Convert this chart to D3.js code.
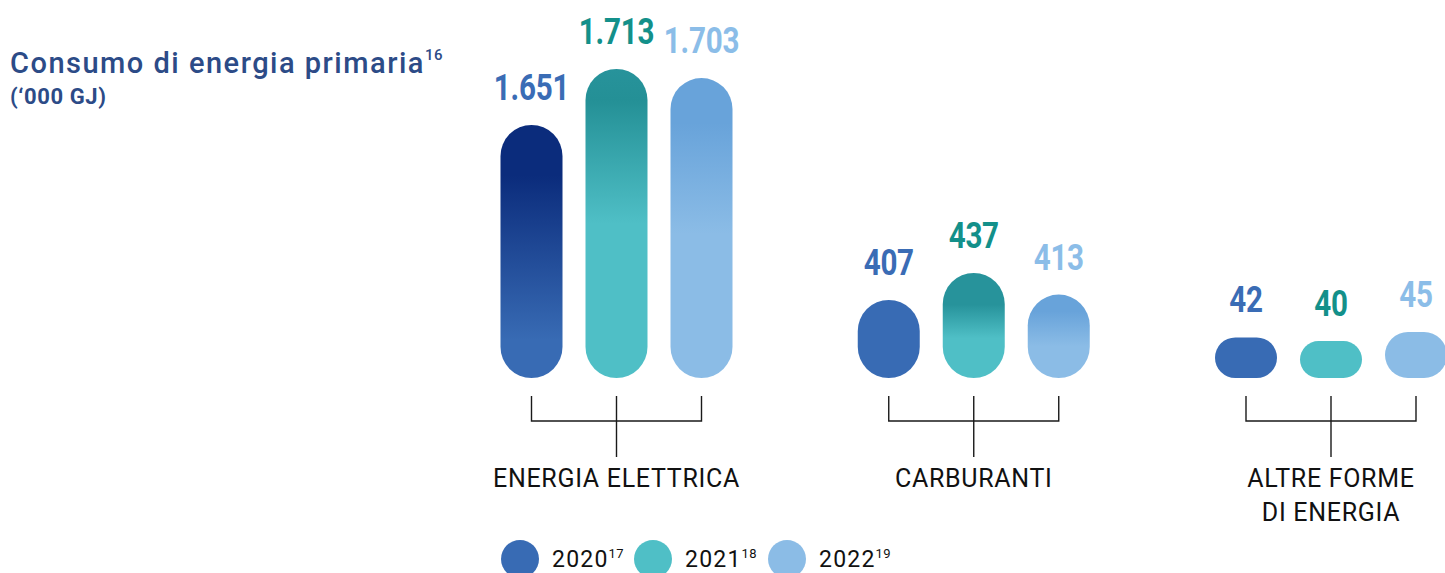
<!DOCTYPE html>
<html>
<head>
<meta charset="utf-8">
<script src="https://cdn.jsdelivr.net/npm/d3@7"></script>
<style>
  html, body { margin: 0; padding: 0; background: #ffffff; }
  svg { display: block; }
</style>
</head>
<body>
<svg id="chart" width="1445" height="573"></svg>
<script>
// ---- data ----
const categories = ["ENERGIA ELETTRICA", "CARBURANTI", "ALTRE FORME DI ENERGIA"];
const categoryLines = [["ENERGIA ELETTRICA"], ["CARBURANTI"], ["ALTRE FORME", "DI ENERGIA"]];
const years = ["2020", "2021", "2022"];
const yearNotes = ["17", "18", "19"];
const values2020 = [1651, 407, 42];
const values2021 = [1713, 437, 40];
const values2022 = [1703, 413, 45];
const titleText = "Consumo di energia primaria";
const titleNote = "16";
const unitText = "(\u2018000 GJ)";

// ---- layout & style ----
const W = 1445, H = 573;
const baseY = 378;          // bottom of every pill
const barW = 62;
const barStep = 85;
const groupHeightRange = [[253, 309], [78, 105], [37, 46]];  // pixel span per group
const fills = ["#386bb4", "#4fbfc6", "#8bbce6"];
const labelColors = ["#3a6cb5", "#13908a", "#8bbde8"];
const navy = "#2c4b87";
const font = "Roboto, 'DejaVu Sans', sans-serif";
// vertical gradient stops per [group][year]; null = plain fill
const gradStops = [
  [
    [[0, "#0b2c7c"], [0.2, "#0b2c7c"], [0.85, "#386bb4"], [1, "#386bb4"]],
    [[0, "#27939b"], [0.1, "#249096"], [0.5, "#4fbfc6"], [1, "#4fbfc6"]],
    [[0, "#68a3da"], [0.15, "#68a3da"], [0.52, "#8bbce6"], [1, "#8bbce6"]]
  ],
  [
    null,
    [[0, "#27939b"], [0.3, "#27939b"], [0.62, "#4fbfc6"], [1, "#4fbfc6"]],
    [[0, "#68a3da"], [0.2, "#68a3da"], [0.62, "#8bbce6"], [1, "#8bbce6"]]
  ],
  [null, null, null]
];

const series = [values2020, values2021, values2022];
const fmt = d3.formatLocale({ decimal: ",", thousands: ".", grouping: [3], currency: ["€", ""] }).format(",d");

const svg = d3.select("#chart");
const defs = svg.append("defs");

// group centres and in-group offsets
const xGroup = d3.scalePoint().domain(categories).range([616.5, 1331]);
const xYear = d3.scalePoint().domain(years).range([-barStep, barStep]);

// per-group height scale (each group spans its own value range)
const hScales = categories.map((c, gi) => {
  const vals = series.map(s => s[gi]);
  return d3.scaleLinear().domain(d3.extent(vals)).range(groupHeightRange[gi]);
});

// ---- title ----
const title = svg.append("text")
  .attr("x", 10).attr("y", 73)
  .attr("fill", navy)
  .style("font-family", font)
  .style("font-weight", 500)
  .style("font-size", "29px")
  .style("letter-spacing", "1.5px");
title.append("tspan").text(titleText);
title.append("tspan").attr("dy", -13).attr("dx", 0).style("font-size", "15px").style("letter-spacing", "0.5px").text(titleNote);

svg.append("text")
  .attr("x", 10).attr("y", 104)
  .attr("fill", navy)
  .style("font-family", font)
  .style("font-weight", 700)
  .style("font-size", "22px")
  .style("letter-spacing", "0.6px")
  .text(unitText);

// ---- bars ----
const bars = [];
categories.forEach((c, gi) => {
  years.forEach((y, yi) => {
    const v = series[yi][gi];
    bars.push({ c, gi, y, yi, v, h: hScales[gi](v), cx: xGroup(c) + xYear(y) });
  });
});

bars.forEach(b => {
  const stops = gradStops[b.gi][b.yi];
  if (stops) {
    const g = defs.append("linearGradient")
      .attr("id", `g${b.gi}${b.yi}`)
      .attr("x1", 0).attr("y1", 0).attr("x2", 0).attr("y2", 1);
    g.selectAll("stop").data(stops).join("stop")
      .attr("offset", d => d[0]).attr("stop-color", d => d[1]);
    b.fill = `url(#g${b.gi}${b.yi})`;
  } else {
    b.fill = fills[b.yi];
  }
});

svg.append("g").selectAll("rect").data(bars).join("rect")
  .attr("x", d => d.cx - barW / 2)
  .attr("y", d => baseY - d.h)
  .attr("width", barW)
  .attr("height", d => d.h)
  .attr("rx", d => Math.min(barW, d.h) / 2)
  .attr("ry", d => Math.min(barW, d.h) / 2)
  .attr("fill", d => d.fill);

// value labels, condensed bold
svg.append("g").selectAll("text").data(bars).join("text")
  .attr("transform", d => `translate(${d.cx},${baseY - d.h - 25}) scale(0.8,1)`)
  .attr("text-anchor", "middle")
  .attr("fill", d => labelColors[d.yi])
  .style("font-family", font)
  .style("font-weight", 700)
  .style("font-size", "37px")
  .style("letter-spacing", "-0.3px")
  .text(d => fmt(d.v));

// ---- brackets ----
const brk = svg.append("g").attr("stroke", "#1a1a1a").attr("stroke-width", 1.4).attr("fill", "none");
categories.forEach(c => {
  const x0 = xGroup(c) + xYear(years[0]);
  const x1 = xGroup(c) + xYear(years[years.length - 1]);
  const xm = xGroup(c);
  brk.append("path").attr("d", `M${x0},396V421H${x1}V396M${xm},396V457`);
});

// ---- category labels ----
const catG = svg.append("g")
  .attr("fill", "#111111")
  .style("font-family", font)
  .style("font-size", "25px")
  .style("letter-spacing", "0.7px")
  .attr("text-anchor", "middle");
categories.forEach((c, gi) => {
  const t = catG.append("text").attr("x", xGroup(c)).attr("y", 487);
  categoryLines[gi].forEach((line, li) => {
    t.append("tspan").attr("x", xGroup(c)).attr("dy", li === 0 ? 0 : 34).text(line);
  });
});

// ---- legend ----
const legX = [520, 653, 787];
const leg = svg.append("g").selectAll("g").data(years).join("g")
  .attr("transform", (d, i) => `translate(${legX[i]},559)`);
leg.append("circle").attr("r", 19).attr("fill", (d, i) => fills[i]);
const lt = leg.append("text")
  .attr("x", 32).attr("y", 8)
  .attr("fill", "#111111")
  .style("font-family", font)
  .style("font-size", "23px")
  .style("letter-spacing", "1.2px");
lt.append("tspan").text(d => d);
lt.append("tspan").attr("dy", -9).attr("dx", 0).style("font-size", "13px").style("letter-spacing", "0.5px").text((d, i) => yearNotes[i]);
</script>
</body>
</html>
